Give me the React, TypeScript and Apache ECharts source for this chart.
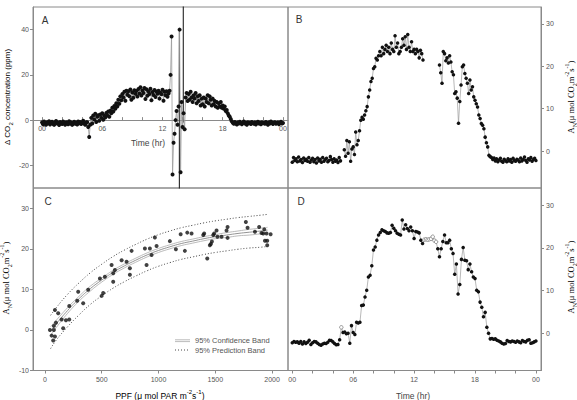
import React, { useEffect, useRef } from "react";
import * as echarts from "echarts";

// ---------- tick labels ----------
const HOUR_LABELS = [0, 6, 12, 18, 24];
const HOUR_TICKS = [0, 2, 4, 6, 8, 10, 12, 14, 16, 18, 20, 22, 24];
const A_Y_TICKS = [-20, 0, 20, 40];
const AN_TICKS = [0, 10, 20, 30];
const C_Y_TICKS = [-10, 0, 10, 20, 30];
const C_X_TICKS = [0, 500, 1000, 1500, 2000];

// ---------- panel A: delta CO2 (ppm), one value every 0.1 h ----------
const aStepHr = 0.1;
const aCO2 = [
  -1.0, -1.8, -0.6, -1.5, -2.0, -0.9, -1.4, -0.5, -1.9, -1.2,
  -0.7, -1.6, -2.1, -1.0, -0.4, -1.5, -1.1, -2.2, -0.8, -1.3,
  -1.7, -0.6, -1.4, -2.0, -0.9, -1.2, -1.8, -0.5, -1.5, -1.0,
  -2.1, -1.3, -0.7, -1.6, -1.1, -1.9, -0.6, -1.4, -0.8, -1.7,
  -1.2, -0.3, -1.5, -2.0, -1.0, -0.9,
  -3.0, -7.5, -2.0,
  1.0, -1.5, 2.0, 0.3, 2.8, -0.8, 1.5, 2.2, -0.3, 2.5, 1.0, 3.0, 0.2, 2.0, 1.2, 3.2,
  2.0, 3.8, 1.5, 4.2, 3.0, 5.5, 3.8, 6.2, 5.0, 7.5, 6.0, 9.0, 7.2, 10.5, 8.8, 11.5,
  10.0, 12.5, 8.6, 13.0, 11.2, 12.8, 10.5, 13.5, 9.0, 12.2,
  9.9, 13.2, 11.6, 12.9, 10.4, 13.8, 11.8, 14.5, 10.9, 13.1,
  12.0, 14.2, 9.3, 13.6, 10.8, 12.7, 11.5, 13.9, 8.8, 12.4,
  11.1, 13.3, 10.2, 12.6, 11.7, 13.0, 9.5, 12.1, 11.4, 13.4,
  8.6, 12.5, 11.0, 12.8, 10.3, 11.8,
  13.0, 20.0, 37.0, -24.0, -10.0, -6.0, 0.0, 4.0, -2.0, 6.0, 40.0, -23.0, 8.0, -3.0, 3.0, -4.0, 10.0,
  12.0, 8.5, 11.5, 9.0, 12.5, 10.0, 8.0, 11.0, 9.5, 12.0, 7.5, 10.5, 8.5, 11.0, 6.5, 9.5,
  7.0, 10.0, 6.0, 9.5, 8.0, 11.0, 7.5, 10.5, 9.0, 6.5, 9.5, 7.0, 8.5, 6.0, 8.0, 5.5,
  7.5, 6.0, 8.0, 5.5, 6.5, 5.0, 6.0, 4.0, 4.5, 3.0, 2.0, 1.5, 0.5, -0.5,
  -1.2, -1.6, -0.8, -1.4, -1.9, -1.0, -1.5, -0.7, -1.3, -1.8,
  -1.1, -0.6, -1.5, -1.2, -2.0, -0.9, -1.4, -1.1, -1.7, -0.8,
  -1.3, -1.6, -1.0, -1.9, -1.2, -0.7, -1.5, -1.1, -1.8, -0.9,
  -1.4, -1.2, -1.6, -0.8, -1.3, -2.0, -1.0, -1.5, -0.6, -1.2,
  -1.7, -1.1, -0.9, -1.6, -1.3, -1.0, -1.8, -1.2, -0.7, -1.5,
  -1.3,
];
// off-scale excursions drawn as near-vertical lines
const aSpikeTime = [13.68, 14.07];
const aSpikeFrom = [40, -1];
const aSpikeTo = [-60, 80];

// ---------- panel B: AN, one value every 0.125 h (null = no data) ----------
const bStepHr = 0.125;
const bAN: (number | null)[] = [
  -2.6, -1.5, -2.2, -1.8, -2.5, -1.4, -2.3, -2.0, -2.7, -1.6,
  -2.2, -1.9, -2.4, -1.5, -2.6, -2.1, -1.7, -2.5, -2.0, -2.8,
  -1.6, -2.3, -1.9, -2.6, -1.5, -2.4, -2.0, -1.7, -2.5, -2.2,
  -1.3, -2.0, -2.6, -1.8, -2.4, -2.1, -2.7,
  -1.5, -2.3,
  null, null,
  0.3, -1.2, 2.5, -0.5, 2.2, -2.4, 0.5,
  1.0, -0.8, 4.5, 1.5, 2.5, 4.8, 7.3, 8.0, 7.5, 8.5, 9.5, 10.5, 12.8, 14.4, 16.4, 17.2, 19.5, 19.9, 21.9, 21.5, 22.5, 23.5,
  22.5, 24.5, 23.0, 24.0, 25.0, 23.5, 24.5, 23.0, 25.5, 24.0,
  23.5, 27.2, 24.5, 25.5, 23.0, 23.5, 24.5, 26.5, 25.0, 27.0,
  24.0, 27.5, 24.5, 23.5, 25.8, 23.5, 24.0, 23.0, 24.0, 23.5,
  22.0, 23.8, 23.0, 21.5,
  null, null, null, null, null, null, null, null, null, null, null, null,
  20.3, 18.5, 16.0, 23.5, 23.0, 21.3, 22.0, 20.8, 22.5, 21.0,
  18.7, 18.0, 13.6, 14.0, 12.5, 6.6, 11.7, 15.6, 19.9, 20.3,
  18.3, 17.2, 16.0, 13.6, 16.8, 14.4, 15.2, 12.8, 12.0, 11.2,
  10.4, 8.5, 7.7, 6.5, 6.1, 5.3, 3.3, 2.0, 1.0, -1.0,
  -1.3, -1.5,
  -2.0, -1.6, -2.3, -1.8, -2.5, -2.1, -1.7, -2.4, -2.6, -1.9,
  -2.2, -2.5, -1.8, -2.3, -2.0, -2.6, -1.7, -2.2, -2.4, -1.9,
  -2.1, -2.5, -1.6, -2.3, -2.0, -1.4, -2.2, -2.6, -1.8, -2.1,
  -1.5, -2.4, -2.0, -1.7, -2.2,
];

// ---------- panel D: AN, one value every 10 min ----------
const dStepHr = 1 / 6;
const dAN = [
  -2.2, -1.9, -2.1, -2.0, -2.3, -1.9, -2.5, -2.0, -2.4, -2.1,
  -1.6, -2.6, -2.2, -1.9, -2.0, -2.3, -2.6, -2.8, -2.5, -2.3,
  -2.4, -2.1, -1.6, -1.7, -2.0, -2.4, -2.7, -2.6,
  -1.5, 1.4, 0.2, 0.3, -0.1, 0.0, -2.3, 1.8, 0.2, -0.3,
  2.6, 2.4, 2.6, 6.5, 6.6, 8.5, 10.1, 13.2, 13.6, 15.8,
  19.5, 20.2, 21.8, 23.0, 23.6, 24.2, 24.0, 23.8, 23.5, 23.4,
  23.6, 25.3, 24.6, 24.0, 23.4, 23.2, 23.0, 26.5, 24.4, 25.4,
  24.5, 24.0, 24.9, 24.0, 22.2, 23.8, 23.7, 23.5, 21.8, 21.0,
  21.9, 22.0, 21.9, 22.0, 22.1, 22.6, 21.7, 21.4,
  19.8, 17.9, 19.8, 21.5, 23.0, 21.2, 21.2, 21.8, 19.8, 18.7,
  13.8, 16.2, 9.2, 11.4, 17.3, 20.1, 17.1, 17.0, 14.9, 16.2,
  14.4, 13.2, 12.8, 10.1, 9.7, 7.3, 6.1, 3.9, 4.9, 1.4,
  0.0, -1.3,
  -1.2, -1.4, -1.3, -1.6, -1.8, -2.0, -2.3, -2.5, -2.4, -1.7,
  -1.9, -2.0, -1.8, -1.9, -2.1, -1.8, -2.0, -2.2, -1.7, -1.9,
  -2.0, -1.6, -1.5, -2.3, -2.2, -2.0, -1.8,
];
const dGapFilled = [29, 78, 79, 80, 81, 82, 83, 84, 85];

// ---------- panel C: light response ----------
const cPPF = [
  44, 59, 79, 88, 79, 73, 88, 97, 117, 147, 161, 185, 214, 214, 293, 284, 337, 381,
  484, 499, 513, 528, 587, 601, 616, 601, 675, 719, 748, 748, 763, 880, 895, 924, 939,
  968, 983, 1100, 1153, 1195, 1232, 1253, 1291, 1394, 1402, 1429, 1452, 1461, 1470,
  1482, 1490, 1511, 1519, 1555, 1599, 1608, 1608, 1769, 1784, 1849, 1886, 1907, 1922,
  1931, 1937, 1957, 1957, 1951, 1987,
];
const cAN = [
  0, -1.4, 0, -1.6, 1.0, -2.6, 4.9, 1.8, 4.1, 2.6, 0.4, 2.4, 2.6, 5.9, 9.4, 7.2, 6.6, 9.9,
  12.7, 8.4, 9.1, 13.1, 16.0, 14.0, 14.8, 11.9, 17.2, 16.8, 15.2, 13.6, 19.5, 20.1, 16.0, 20.1, 18.5,
  22.8, 20.7, 21.9, 19.9, 23.6, 19.5, 24.0, 23.8, 23.4, 23.8, 17.6, 20.9, 21.2, 21.8,
  23.4, 23.8, 24.5, 23.0, 23.0, 24.5, 25.4, 22.7, 26.6, 25.2, 24.2, 25.4, 23.9, 23.8,
  24.8, 22.0, 22.0, 20.9, 23.8, 23.6,
];
const fitPPF = [50, 100, 200, 300, 400, 500, 600, 700, 800, 900, 1000, 1100, 1200, 1300, 1400, 1500, 1600, 1700, 1800, 1900, 1960];
const fitMid = [-0.3, 1.5, 4.8, 7.7, 10.2, 12.3, 14.2, 15.8, 17.2, 18.5, 19.6, 20.5, 21.3, 21.9, 22.5, 23.0, 23.4, 23.8, 24.1, 24.4, 24.6];
const confHi = [0.8, 2.4, 5.5, 8.3, 10.8, 12.8, 14.7, 16.3, 17.7, 19.0, 20.1, 21.0, 21.8, 22.4, 23.0, 23.5, 24.0, 24.4, 24.8, 25.1, 25.3];
const confLo = [-1.4, 0.6, 4.1, 7.1, 9.6, 11.8, 13.7, 15.3, 16.7, 18.0, 19.1, 20.0, 20.8, 21.4, 22.0, 22.5, 22.8, 23.2, 23.4, 23.7, 23.9];
const predHi = [3.6, 5.5, 8.8, 11.6, 14.1, 16.2, 18.1, 19.7, 21.1, 22.4, 23.5, 24.4, 25.2, 25.8, 26.4, 26.9, 27.3, 27.7, 28.0, 28.3, 28.5];
const predLo = [-4.6, -2.5, 0.8, 3.7, 6.3, 8.4, 10.3, 11.9, 13.3, 14.6, 15.7, 16.6, 17.4, 18.0, 18.6, 19.1, 19.5, 19.9, 20.2, 20.4, 20.6];

// ---------- styling ----------
const SANS = "Liberation Sans, Arial, sans-serif";
const SERIF = "Liberation Serif, Times New Roman, serif";
const AXIS_C = "#8a8a8a";
const LABEL_C = "#555";
const DOT_C = "#111";
const LINE_C = "#9a9a9a";

const A_Y_MIN = -30;
const A_Y_MAX = 50;
const A_GRID_H = 181;

const hourFmt = (v: number) => String(Math.round(v) % 24).padStart(2, "0");
const plainNum = (v: number) => String(v);

function valueAxis(extra: any) {
  return {
    type: "value",
    splitLine: { show: false },
    axisLine: { show: true, onZero: false, lineStyle: { color: AXIS_C, width: 1 } },
    axisTick: { show: true, length: 3, lineStyle: { color: AXIS_C } },
    axisLabel: { fontSize: 7, color: LABEL_C, fontFamily: SANS, margin: 4 },
    ...extra,
  };
}

const anRich = {
  n: { fontFamily: SERIF, fontSize: 8.5, color: "#777", lineHeight: 14, verticalAlign: "middle" },
  sub: { fontFamily: SERIF, fontSize: 6, color: "#777", lineHeight: 14, verticalAlign: "bottom" },
  sup: { fontFamily: SERIF, fontSize: 6, color: "#777", lineHeight: 14, verticalAlign: "top" },
};
const anText = "{n|A}{sub|N}{n|(μ mol CO}{sub|2}{n|m}{sup|-2}{n|s}{sup|-1}{n|)}";

function rotText(x: number, y: number, text: string, rich: any) {
  return {
    type: "text",
    x,
    y,
    rotation: Math.PI / 2,
    style: { text, rich, align: "center", verticalAlign: "middle" },
  };
}
function plainText(x: number, y: number, text: string, size: number, color = "#333") {
  return {
    type: "text",
    x,
    y,
    style: { text, fontSize: size, fontFamily: SANS, fill: color, align: "center", verticalAlign: "middle" },
  };
}

function buildOption() {
  const aData = aCO2.map((v, i) => [i * aStepHr, v]);
  const bData = bAN.map((v, i) => (v === null ? [i * bStepHr, "-"] : [i * bStepHr, v]));
  const dData = dAN.map((v, i) => {
    const item: any = { value: [i * dStepHr, v] };
    if (dGapFilled.includes(i)) {
      item.itemStyle = { color: "#fff", borderColor: "#888", borderWidth: 0.9 };
    }
    return item;
  });
  const cData = cPPF.map((x, i) => [x, cAN[i]]);
  const curve = (ys: number[]) => fitPPF.map((x, i) => [x, ys[i]]);

  const spikeSeries = aSpikeTime.map((t, i) => ({
    type: "line",
    xAxisIndex: 0,
    yAxisIndex: 0,
    showSymbol: false,
    symbol: "none",
    data: [
      [t, aSpikeFrom[i]],
      [t, aSpikeTo[i]],
    ],
    lineStyle: { color: "#222", width: 1.1 },
    z: 1,
  }));

  const curveLine = (ys: number[], color: string, width: number, type: any) => ({
    type: "line",
    xAxisIndex: 2,
    yAxisIndex: 2,
    smooth: true,
    symbol: "none",
    showSymbol: false,
    data: curve(ys),
    lineStyle: { color, width, type },
    z: 1,
  });

  const gridBase = { show: true, borderColor: AXIS_C, borderWidth: 1, backgroundColor: "transparent" };
  // place panel A's time axis on its zero line
  const aZeroOffset = -((0 - A_Y_MIN) / (A_Y_MAX - A_Y_MIN)) * A_GRID_H;

  return {
    animation: false,
    backgroundColor: "#fff",
    textStyle: { fontFamily: SANS },
    grid: [
      { ...gridBase, left: 33, top: 7, width: 255, height: A_GRID_H },
      { ...gridBase, left: 288, top: 7, width: 253, height: 181 },
      { ...gridBase, left: 33, top: 188, width: 255, height: 182.5 },
      { ...gridBase, left: 288, top: 188, width: 253, height: 182.5 },
    ],
    xAxis: [
      valueAxis({
        gridIndex: 0,
        position: "bottom",
        offset: aZeroOffset,
        min: -0.9,
        max: 24.5,
        axisTick: { show: true, inside: true, length: 3, customValues: HOUR_TICKS, lineStyle: { color: AXIS_C } },
        axisLabel: { customValues: HOUR_LABELS, formatter: hourFmt, fontSize: 7, color: LABEL_C, margin: 5 },
      }),
      { type: "value", gridIndex: 1, min: -0.42, max: 24.5, show: false },
      valueAxis({
        gridIndex: 2,
        min: -105,
        max: 2140,
        axisTick: { show: true, length: 3, customValues: C_X_TICKS, lineStyle: { color: AXIS_C } },
        axisLabel: { customValues: C_X_TICKS, formatter: plainNum, fontSize: 7, color: LABEL_C, margin: 5 },
      }),
      valueAxis({
        gridIndex: 3,
        min: -0.42,
        max: 24.5,
        axisTick: { show: true, length: 3, customValues: HOUR_TICKS, lineStyle: { color: AXIS_C } },
        axisLabel: { customValues: HOUR_LABELS, formatter: hourFmt, fontSize: 7, color: LABEL_C, margin: 5 },
      }),
    ],
    yAxis: [
      valueAxis({
        gridIndex: 0,
        min: A_Y_MIN,
        max: A_Y_MAX,
        axisTick: { show: true, length: 3, customValues: A_Y_TICKS, lineStyle: { color: AXIS_C } },
        axisLabel: { customValues: A_Y_TICKS, formatter: plainNum, fontSize: 7, color: LABEL_C, margin: 4 },
      }),
      valueAxis({
        gridIndex: 1,
        position: "right",
        min: -8.7,
        max: 34,
        axisTick: { show: true, length: 3, customValues: AN_TICKS, lineStyle: { color: AXIS_C } },
        axisLabel: { customValues: AN_TICKS, formatter: plainNum, fontSize: 7, color: LABEL_C, margin: 5 },
      }),
      valueAxis({
        gridIndex: 2,
        min: -10,
        max: 35,
        axisTick: { show: true, length: 3, customValues: C_Y_TICKS, lineStyle: { color: AXIS_C } },
        axisLabel: { customValues: C_Y_TICKS, formatter: plainNum, fontSize: 7, color: LABEL_C, margin: 4 },
      }),
      valueAxis({
        gridIndex: 3,
        position: "right",
        min: -8.7,
        max: 34,
        axisTick: { show: true, length: 3, customValues: AN_TICKS, lineStyle: { color: AXIS_C } },
        axisLabel: { customValues: AN_TICKS, formatter: plainNum, fontSize: 7, color: LABEL_C, margin: 5 },
      }),
    ],
    series: [
      {
        type: "line",
        xAxisIndex: 0,
        yAxisIndex: 0,
        data: aData,
        symbol: "circle",
        symbolSize: 4,
        showAllSymbol: true,
        itemStyle: { color: DOT_C },
        lineStyle: { color: LINE_C, width: 0.8 },
        z: 2,
      },
      ...spikeSeries,
      {
        type: "line",
        xAxisIndex: 1,
        yAxisIndex: 1,
        data: bData,
        connectNulls: false,
        symbol: "circle",
        symbolSize: 3.5,
        showAllSymbol: true,
        itemStyle: { color: DOT_C },
        lineStyle: { color: LINE_C, width: 0.7 },
      },
      {
        type: "line",
        xAxisIndex: 3,
        yAxisIndex: 3,
        data: dData,
        symbol: "circle",
        symbolSize: 3.5,
        showAllSymbol: true,
        itemStyle: { color: DOT_C },
        lineStyle: { color: LINE_C, width: 0.7 },
      },
      curveLine(predHi, "#333", 0.9, [1, 2]),
      curveLine(predLo, "#333", 0.9, [1, 2]),
      curveLine(confHi, "#aaa", 0.8, "solid"),
      curveLine(confLo, "#aaa", 0.8, "solid"),
      curveLine(fitMid, "#888", 0.9, "solid"),
      {
        type: "scatter",
        xAxisIndex: 2,
        yAxisIndex: 2,
        data: cData,
        symbol: "circle",
        symbolSize: 4,
        itemStyle: { color: DOT_C },
        z: 3,
      },
    ],
    graphic: [
      plainText(45, 20, "A", 10),
      plainText(299, 19, "B", 10),
      plainText(48, 201, "C", 10),
      plainText(301, 201, "D", 10),
      plainText(148, 143, "Time (hr)", 8.5, "#444"),
      plainText(413, 396, "Time (hr)", 8.5, "#444"),
      {
        type: "text",
        x: 160,
        y: 396,
        style: {
          text: "{n|PPF (μ mol PAR m}{sup|-2}{n|s}{sup|-1}{n|)}",
          align: "center",
          verticalAlign: "middle",
          rich: {
            n: { fontFamily: SANS, fontSize: 8.5, color: "#444", lineHeight: 14, verticalAlign: "middle" },
            sup: { fontFamily: SANS, fontSize: 6, color: "#444", lineHeight: 14, verticalAlign: "top" },
          },
        },
      },
      rotText(7, 97, "{n|Δ CO}{sub|2}{n| concentration (ppm)}", {
        n: { fontFamily: SANS, fontSize: 8, color: "#444", lineHeight: 14, verticalAlign: "middle" },
        sub: { fontFamily: SANS, fontSize: 6, color: "#444", lineHeight: 14, verticalAlign: "bottom" },
      }),
      rotText(571, 97, anText, anRich),
      rotText(571, 277, anText, anRich),
      rotText(6, 278, anText, anRich),
      // legend of panel C
      { type: "line", shape: { x1: 175, y1: 339.8, x2: 190, y2: 339.8 }, style: { stroke: "#aaa", lineWidth: 0.8 } },
      { type: "line", shape: { x1: 175, y1: 341.6, x2: 190, y2: 341.6 }, style: { stroke: "#aaa", lineWidth: 0.8 } },
      {
        type: "line",
        shape: { x1: 175, y1: 350, x2: 190, y2: 350 },
        style: { stroke: "#333", lineWidth: 0.9, lineDash: [1, 2] },
      },
      {
        type: "text",
        x: 195,
        y: 340.7,
        style: { text: "95% Confidence Band", fontSize: 7.5, fontFamily: SANS, fill: "#555", verticalAlign: "middle" },
      },
      {
        type: "text",
        x: 195,
        y: 350,
        style: { text: "95% Prediction Band", fontSize: 7.5, fontFamily: SANS, fill: "#555", verticalAlign: "middle" },
      },
    ],
  };
}

export default function App() {
  const ref = useRef<HTMLDivElement>(null);
  useEffect(() => {
    if (!ref.current) return;
    const chart = echarts.init(ref.current, null, { renderer: "svg" });
    chart.setOption(buildOption() as any);
    return () => chart.dispose();
  }, []);
  return (
    <div
      ref={ref}
      style={{ position: "fixed", left: 0, top: 0, width: 577, height: 400, background: "#fff" }}
    />
  );
}
